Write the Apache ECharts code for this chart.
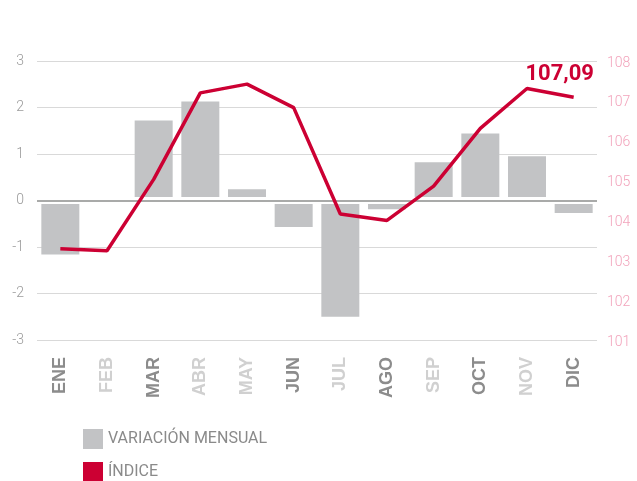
<!DOCTYPE html>
<html><head><meta charset="utf-8">
<script src="https://cdn.jsdelivr.net/npm/echarts@6/dist/echarts.min.js"></script>
<style>html,body{margin:0;padding:0;background:#fff}#c{width:637px;height:481px}</style>
</head><body><div id="c"></div>
<script>
const categories = ['ENE','FEB','MAR','ABR','MAY','JUN','JUL','AGO','SEP','OCT','NOV','DIC'];
const variacionMensual = [-1.16, 0, 1.72, 2.13, 0.24, -0.57, -2.50, -0.19, 0.82, 1.44, 0.95, -0.27];
const indice = [103.29, 103.24, 105.03, 107.20, 107.42, 106.83, 104.16, 104.00, 104.86, 106.31, 107.31, 107.09];
const leftTicks = [-3, 3, 1];
const rightTicks = [101, 108, 1];
const labelTone = ['d','l','d','l','l','d','l','d','l','d','l','d'];
const seriesNames = ['VARIACIÓN MENSUAL', 'ÍNDICE'];

const RED = '#cc0033';
const legendText = { color: '#8a8a8a', fontSize: 16, fontFamily: 'Roboto' };
const chart = echarts.init(document.getElementById('c'));
chart.setOption({
  animation: false,
  grid: { left: 37, right: 40, top: 61, bottom: 141 },
  legend: [
    { left: 83, top: 429, padding: 0, itemWidth: 20, itemHeight: 20, icon: 'rect', data: [seriesNames[0]], textStyle: legendText },
    { left: 83, top: 462, padding: 0, itemWidth: 20, itemHeight: 20, icon: 'rect', data: [seriesNames[1]], textStyle: legendText }
  ],
  xAxis: {
    type: 'category',
    data: categories.map((c, i) => ({ value: c, textStyle: { color: labelTone[i] === 'd' ? '#8c8c8c' : '#d0d0d0' } })),
    axisLine: { show: false }, axisTick: { show: false },
    axisLabel: { rotate: 90, margin: 17, fontFamily: 'Liberation Sans', fontWeight: 'bold', fontSize: 18 }
  },
  yAxis: [
    { type: 'value', min: leftTicks[0], max: leftTicks[1], interval: leftTicks[2],
      axisLine: { show: false }, axisTick: { show: false },
      splitLine: { lineStyle: { color: '#d9d9d9', width: 1 } },
      axisLabel: { color: '#9a9a9a', fontSize: 14, fontFamily: 'Roboto', fontWeight: 300, margin: 13 } },
    { type: 'value', min: rightTicks[0], max: rightTicks[1], interval: rightTicks[2],
      axisLine: { show: false }, axisTick: { show: false }, splitLine: { show: false },
      axisLabel: { color: '#f2a3bb', fontSize: 14, fontFamily: 'Roboto', fontWeight: 300, margin: 10,
        verticalAlign: 'top', padding: [-5,0,0,0] } }
  ],
  series: [
    { name: seriesNames[0], type: 'bar', yAxisIndex: 0, data: variacionMensual, barWidth: 38,
      itemStyle: { color: '#c2c3c5' }, z: 2,
      markLine: { silent: true, symbol: 'none', z: 3, label: { show: false },
        data: [
          { yAxis: 0, lineStyle: { color: '#ffffff', width: 7, type: 'solid' } },
          { yAxis: 0, lineStyle: { color: '#a9aaa9', width: 2, type: 'solid' } }
        ] } },
    { name: seriesNames[1], type: 'line', yAxisIndex: 1, data: indice, z: 5,
      symbol: 'circle', symbolSize: 0.1, showSymbol: true, color: RED,
      itemStyle: { color: RED }, lineStyle: { color: RED, width: 3.5 },
      label: { show: true, position: 'top', offset: [-14, -7], color: RED, fontFamily: 'Roboto',
        fontWeight: 'bold', fontSize: 22,
        formatter: p => p.dataIndex === indice.length - 1 ? indice[p.dataIndex].toFixed(2).replace('.', ',') : '' } }
  ]
});
</script></body></html>
